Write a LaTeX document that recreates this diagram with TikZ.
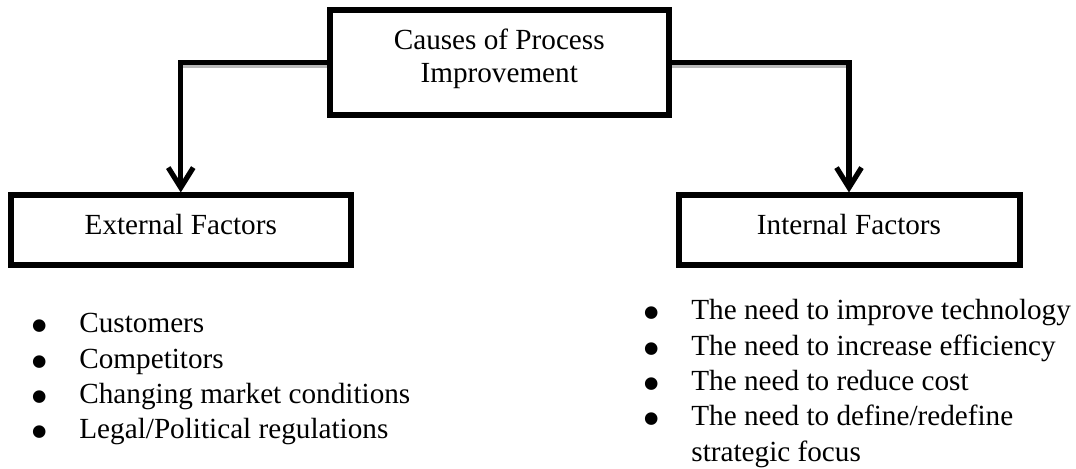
\documentclass[tikz,border=0pt]{standalone}
\usepackage{fontspec}
\usepackage{graphicx}
\setmainfont{Liberation Serif}
\usetikzlibrary{arrows.meta}

% width reserved for a bullet before its item text
\newlength{\bulw}
\setlength{\bulw}{23.75pt}
\newcommand{\bul}{\raisebox{-5.5pt}{\scalebox{1.8}{\textbullet}}}
\newcommand{\itm}[1]{\makebox[\bulw][l]{\hspace*{-0.5pt}\bul}#1}
% natural word spacing inside aligned nodes
\newcommand{\tight}{\spaceskip=0pt\xspaceskip=0pt\relax}

\begin{document}
\begin{tikzpicture}[x=0.5pt,y=-0.5pt,
  boxstyle/.style={draw=black,line width=3pt,inner sep=0pt,
    font=\fontsize{14.6pt}{16.5pt}\selectfont},
  link/.style={line width=2.6pt,line cap=butt,line join=miter,
    -{Straight Barb[length=10pt,width=12.5pt,line width=2.6pt]}},
  linkshade/.style={draw=gray!55,line width=1.6pt},
  liststyle/.style={anchor=base west,align=left,inner sep=0pt,
    font=\fontsize{14.6pt}{17.65pt}\selectfont}]

  \useasboundingbox (0,0) rectangle (1076,469);

  % boxes
  \node[boxstyle,minimum width=169.75pt,minimum height=52.5pt,
        text height=10pt,text depth=22.5pt]
        (top) at (499.25,62.5)
        {\begin{tabular}[t]{@{}c@{}}Causes of Process\\Improvement\end{tabular}};
  \node[boxstyle,minimum width=170.25pt,minimum height=35pt,
        text height=10pt,text depth=5.5pt]
        (ext) at (180.75,230.5) {External Factors};
  \node[boxstyle,minimum width=170.5pt,minimum height=35pt,
        text height=10pt,text depth=5.5pt]
        (int) at (849,230.5) {Internal Factors};

  % grey shading under the horizontal runs
  \draw[linkshade] ([yshift=-2pt]top.west) -- ([yshift=-2pt]top.west -| ext.north);
  \draw[linkshade] ([yshift=-2pt]top.east) -- ([yshift=-2pt]top.east -| int.north);

  % connectors
  \draw[link] (top.west) -| (ext.north);
  \draw[link] (top.east) -| (int.north);

  % bullet lists
  \node[liststyle,text width=200pt] (extlist) at (31.5,333)
    {\tight\itm{Customers}\\ \itm{Competitors}\\ \itm{Changing market conditions}\\ \itm{Legal/Political regulations}};
  \node[liststyle,text width=215pt] (intlist) at (643.5,320)
    {\tight\itm{The need to improve technology}\\ \itm{The need to increase efficiency}\\ \itm{The need to reduce cost}\\ \itm{The need to define/redefine}\\ \hspace*{\bulw}strategic focus};
\end{tikzpicture}
\end{document}
